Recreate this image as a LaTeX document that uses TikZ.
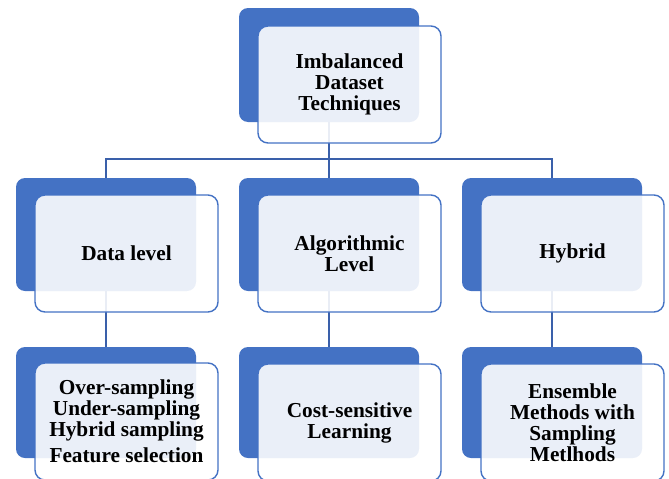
\documentclass[tikz,border=0pt]{standalone}
\usepackage{fontspec}
\setmainfont{Liberation Serif}
\definecolor{cblue}{HTML}{4472C4}
\definecolor{lblue}{HTML}{3A60AA}
\begin{document}
\begin{tikzpicture}[x=1pt,y=-1pt,
  back/.style={fill=cblue, rounded corners=9pt, minimum width=180pt, minimum height=113pt, inner sep=0pt},
  front/.style={draw=cblue, line width=1.4pt, fill=white, fill opacity=0.89, text opacity=1,
    rounded corners=10pt, minimum width=183pt, minimum height=117pt, inner sep=0pt, align=center,
    font=\bfseries\fontsize{21.3}{21}\selectfont},
  conn/.style={draw=lblue, line width=2pt}]
\useasboundingbox (0,0) rectangle (669,479);
% back rectangles
\node[back, minimum height=114pt] (tb) at (329,65) {};
\node[back] (m1b) at (106,234.5) {};
\node[back] (m2b) at (329,234.5) {};
\node[back] (m3b) at (552,234.5) {};
\node[back, minimum height=111pt] (b1b) at (106,402.5) {};
\node[back, minimum height=111pt] (b2b) at (329,402.5) {};
\node[back, minimum height=111pt] (b3b) at (552,402.5) {};
% connectors
\path (tb.south) ++(0,37) coordinate (j);
\draw[conn] (tb.south) -- (j);
\draw[conn] (m1b.north) |- (j) -| (m3b.north);
\draw[conn] (j) -- (m2b.north);
\draw[conn] (m1b.south) -- (b1b.north);
\draw[conn] (m2b.south) -- (b2b.north);
\draw[conn] (m3b.south) -- (b3b.north);
% front boxes
\node[front] (tf) at (349.5,84.5) {Imbalanced\\Dataset\\Techniques};
\node[front] (m1f) at (126.5,253.5) {Data level};
\node[front] (m2f) at (349.5,253.5) {Algorithmic\\Level};
\node[front] (m3f) at (572.5,253.5) {Hybrid};
\node[front] (b1f) at (126.5,421.5) {Over-sampling\\Under-sampling\\Hybrid sampling\\[5pt]Feature selection};
\node[front] (b2f) at (349.5,422.5) {Cost-sensitive\\Learning};
\node[front] (b3f) at (572.5,422.5) {Ensemble\\Methods with\\Sampling\\Metlhods};
\end{tikzpicture}
\end{document}
